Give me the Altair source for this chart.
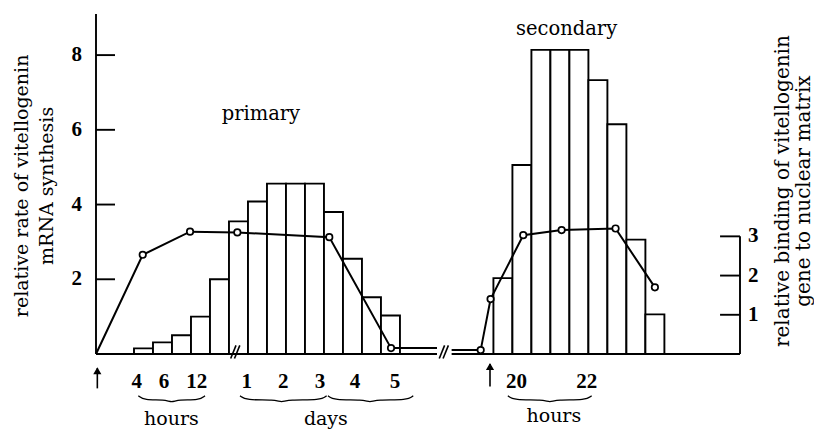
import altair as alt
import pandas as pd

# ---------------- data ----------------
# relative rate of vitellogenin mRNA synthesis (left axis), one bar per time slot
primary_bars = [0.15, 0.31, 0.50, 1.00, 2.00, 3.55, 4.08, 4.56, 4.56, 4.56, 3.80, 2.55, 1.52, 1.03]
secondary_bars = [2.03, 5.06, 8.14, 8.14, 8.14, 7.33, 6.15, 3.06, 1.06]

# relative binding of vitellogenin gene to nuclear matrix (right axis)
primary_line_x = [0.0, 2.46, 4.95, 7.44, 12.28, 15.53, 17.95]
primary_line_v = [0.0, 2.53, 3.12, 3.10, 2.98, 0.15, 0.15]
primary_marker = [False, True, True, True, True, True, False]
secondary_line_x = [18.72, 20.25, 20.77, 22.49, 24.51, 27.35, 29.42]
secondary_line_v = [0.10, 0.10, 1.40, 3.03, 3.16, 3.20, 1.70]
secondary_marker = [False, True, True, True, True, True, True]

# time-axis labels
tick_labels = ["4", "6", "12", "1", "2", "3", "4", "5", "20", "22"]
tick_pos = [2.14, 3.58, 5.30, 7.93, 9.86, 11.79, 13.63, 15.74, 22.14, 25.83]
unit_labels = ["hours", "days", "hours"]
unit_pos = [3.97, 12.10, 24.10]
brace_start = [2.23, 7.58, 12.21, 21.68]
brace_mid = [3.98, 9.77, 14.42, 23.89]
brace_end = [5.74, 12.14, 16.70, 26.09]
arrow_pos = [0.07, 20.74]
break_pos = [7.09, 18.07]
left_ticks = [2, 4, 6, 8]
right_ticks = [1, 2, 3]
left_title = ["relative rate of vitellogenin", "mRNA synthesis"]
right_title = ["relative binding of vitellogenin", "gene to nuclear matrix"]

# ---------------- layout constants ----------------
W, H = 644, 340
X_MAX = 33.9
YL_MAX = 9.1
YR_MAX = 8.67
PRIMARY_START = 2.0
SECONDARY_START = 20.92
SERIF = "DejaVu Serif"
DIGIT = "Liberation Serif"

xs = alt.Scale(domain=[0, X_MAX], nice=False, zero=False)
yl = alt.Scale(domain=[0, YL_MAX], nice=False, zero=False)
yr = alt.Scale(domain=[0, YR_MAX], nice=False, zero=False)


def X(f):
    return alt.X(f, type="quantitative", scale=xs, axis=None)


def YL(f):
    return alt.Y(f, type="quantitative", scale=yl, axis=None)


def YR(f):
    return alt.Y(f, type="quantitative", scale=yr, axis=None)


# bars
bars_df = pd.DataFrame({
    "x0": [PRIMARY_START + i for i in range(len(primary_bars))]
    + [SECONDARY_START + i for i in range(len(secondary_bars))],
    "v": primary_bars + secondary_bars,
})
bars_df["x1"] = bars_df["x0"] + 1.0
bars_df["zero"] = 0.0

bars = alt.Chart(bars_df).mark_rect(
    fill="white", stroke="black", strokeWidth=1.9
).encode(x=X("x0"), x2="x1", y=YL("v"), y2="zero")

# baseline and left axis line
base_df = pd.DataFrame({"xa": [0.0, 18.72], "xb": [17.95, X_MAX], "y": [0.0, 0.0]})
baseline = alt.Chart(base_df).mark_rule(stroke="black", strokeWidth=1.9).encode(
    x=X("xa"), x2="xb", y=YL("y"))
laxis_df = pd.DataFrame({"x": [0.0], "y0": [0.0], "y1": [YL_MAX]})
laxis = alt.Chart(laxis_df).mark_rule(stroke="black", strokeWidth=1.9).encode(
    x=X("x"), y=YL("y0"), y2="y1")

# inward ticks + labels on left axis
lt_df = pd.DataFrame({"v": left_ticks, "xa": 0.0, "xb": 1.0, "xl": -0.74,
                      "t": [str(v) for v in left_ticks]})
lticks = alt.Chart(lt_df).mark_rule(stroke="black", strokeWidth=1.9).encode(
    x=X("xa"), x2="xb", y=YL("v"))
llabels = alt.Chart(lt_df).mark_text(
    font=DIGIT, fontWeight="bold", fontSize=21, color="black",
    align="right", baseline="middle"
).encode(x=X("xl"), y=YL("v"), text="t:N")

# left title (two rotated lines)
lt2_df = pd.DataFrame({"t": left_title, "x": [-3.58, -2.26], "y": [4.5, 4.5]})
ltitle = alt.Chart(lt2_df).mark_text(
    font=SERIF, fontSize=19, color="black", angle=270,
    align="center", baseline="alphabetic"
).encode(x=X("x"), y=YL("y"), text="t:N")

# axis break marks "//"
brk_rows = []
for b in break_pos:
    for k in range(2):
        brk_rows.append({"xa": b + 0.2 * k, "xb": b + 0.28 + 0.2 * k, "ya": -0.12, "yb": 0.23})
breaks = alt.Chart(pd.DataFrame(brk_rows)).mark_rule(stroke="black", strokeWidth=1.6).encode(
    x=X("xa"), x2="xb", y=YL("ya"), y2="yb")

# arrows (hormone injections)
arr_df = pd.DataFrame({"x": arrow_pos, "tip": [-0.38, -0.27], "end": [-0.92, -0.87]})
arr_df["head"] = arr_df["tip"] - 0.08
arrows = alt.Chart(arr_df).mark_rule(stroke="black", strokeWidth=1.6).encode(
    x=X("x"), y=YL("tip"), y2="end")
heads = alt.Chart(arr_df).mark_point(
    shape="triangle-up", filled=True, fill="black", stroke="black", size=22, opacity=1
).encode(x=X("x"), y=YL("head"))

# time tick labels
tl_df = pd.DataFrame({"t": tick_labels, "x": tick_pos, "y": -0.9})
tlabels = alt.Chart(tl_df).mark_text(
    font=DIGIT, fontWeight="bold", fontSize=21, color="black",
    align="center", baseline="alphabetic"
).encode(x=X("x"), y=YL("y"), text="t:N")

ul_df = pd.DataFrame({"t": unit_labels, "x": unit_pos, "y": [-1.9, -1.9, -1.82]})
ulabels = alt.Chart(ul_df).mark_text(
    font=SERIF, fontSize=19, color="black", align="center", baseline="alphabetic"
).encode(x=X("x"), y=YL("y"), text="t:N")

# braces
br_rows = []
for i, (a, m, e) in enumerate(zip(brace_start, brace_mid, brace_end)):
    pts = [(a, -1.12), (a + 0.3, -1.24), (m - 0.35, -1.22), (m, -1.30),
           (m + 0.35, -1.22), (e - 0.3, -1.24), (e, -1.12)]
    for j, (px, py) in enumerate(pts):
        br_rows.append({"b": i, "o": j, "x": px, "y": py})
braces = alt.Chart(pd.DataFrame(br_rows)).mark_line(
    stroke="black", strokeWidth=1.3, interpolate="basis"
).encode(x=X("x"), y=YL("y"), detail="b:N", order="o:Q")

# panel labels
pl_df = pd.DataFrame({"t": ["primary", "secondary"], "x": [8.68, 24.77], "y": [6.26, 8.54]})
plabels = alt.Chart(pl_df).mark_text(
    font=SERIF, fontSize=19.5, color="black", align="center", baseline="alphabetic"
).encode(x=X("x"), y=YL("y"), text="t:N")

# right title (two rotated lines)
rt2_df = pd.DataFrame({"t": right_title, "x": [36.47, 37.6], "y": [4.36, 4.36]})
rtitle = alt.Chart(rt2_df).mark_text(
    font=SERIF, fontSize=20, color="black", angle=270,
    align="center", baseline="alphabetic"
).encode(x=X("x"), y=YL("y"), text="t:N")

left_layer = alt.layer(bars, baseline, laxis, lticks, llabels, ltitle, breaks,
                       arrows, heads, tlabels, ulabels, braces, plabels, rtitle)

# ---------------- right axis layer ----------------
line_df = pd.DataFrame({
    "x": primary_line_x + secondary_line_x,
    "v": primary_line_v + secondary_line_v,
    "phase": ["primary"] * len(primary_line_x) + ["secondary"] * len(secondary_line_x),
    "marker": primary_marker + secondary_marker,
})
line_df["o"] = range(len(line_df))

line = alt.Chart(line_df).mark_line(stroke="black", strokeWidth=2).encode(
    x=X("x"), y=YR("v"), detail="phase:N", order="o:Q")

points = alt.Chart(line_df).transform_filter("datum.marker").mark_point(
    shape="circle", filled=True, fill="white", stroke="black",
    strokeWidth=1.7, size=42, opacity=1
).encode(x=X("x"), y=YR("v"))

rv_df = pd.DataFrame({"x": [X_MAX], "y0": [0.0], "y1": [3.0]})
rvline = alt.Chart(rv_df).mark_rule(stroke="black", strokeWidth=1.9).encode(
    x=X("x"), y=YR("y0"), y2="y1")
rt_df = pd.DataFrame({"v": right_ticks, "xa": X_MAX - 1.05, "xb": X_MAX,
                      "xl": X_MAX + 0.42, "t": [str(v) for v in right_ticks]})
rticks = alt.Chart(rt_df).mark_rule(stroke="black", strokeWidth=1.9).encode(
    x=X("xa"), x2="xb", y=YR("v"))
rlabels = alt.Chart(rt_df).mark_text(
    font=DIGIT, fontWeight="bold", fontSize=21, color="black",
    align="left", baseline="middle"
).encode(x=X("xl"), y=YR("v"), text="t:N")

right_layer = alt.layer(rvline, rticks, rlabels, line, points)

chart = alt.layer(left_layer, right_layer).resolve_scale(y="independent").properties(
    width=W, height=H,
    padding={"left": 88, "top": 6, "right": 74, "bottom": 82},
    autosize=alt.AutoSizeParams(type="none"),
    background="white",
).configure_view(stroke=None)

chart.save("out.html", embed_options={"renderer": "svg", "actions": False})
